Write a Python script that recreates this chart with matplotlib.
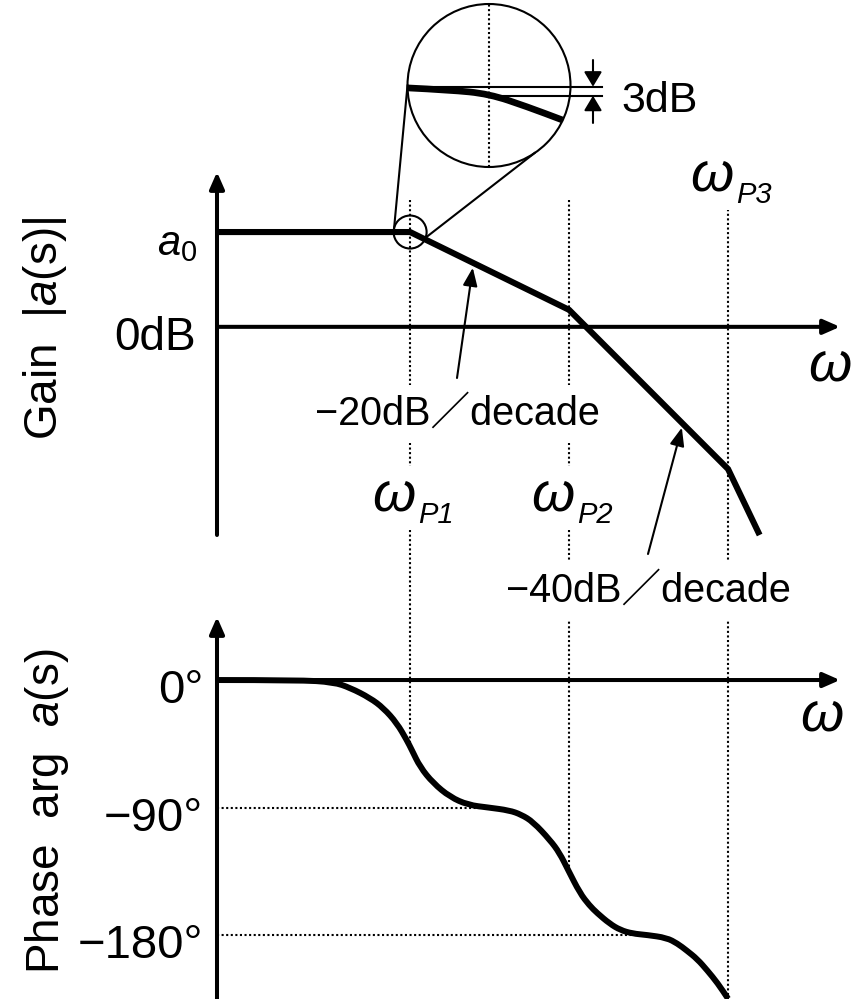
import matplotlib
matplotlib.use("Agg")
import matplotlib.pyplot as plt
from matplotlib.patches import Circle, PathPatch
from matplotlib.path import Path
from matplotlib import transforms
import numpy as np

plt.rcParams['font.family'] = ['Liberation Sans', 'Noto Sans CJK JP']
plt.rcParams['mathtext.fontset'] = 'custom'
plt.rcParams['mathtext.rm'] = 'Liberation Sans'
plt.rcParams['mathtext.it'] = 'Liberation Sans:italic'

# --- values (omega normalised to omega_P1) ---
pole_w = [1, 10, 100]
pole_names = ['P1', 'P2', 'P3']
pole_phase = [-45, -135, -225]   # where the guide lines meet the phase curve

gain_w = [0.061, 1, 10, 100, 158]
gain_db = [24, 24, 4.3, -36, -52.7]

phase_w = [0.061, 0.2, 0.33, 0.42, 0.56, 0.68, 0.825, 0.953, 1.025, 1.156,
           1.395, 1.785, 2.32, 3.1, 4.2, 5.0, 5.94, 7.59, 8.7, 9.86, 11.7,
           13.4, 15, 18, 21, 25, 31, 41, 48, 55, 64, 74, 86, 100]
phase_deg = [0, 0, -1.5, -5.5, -12.7, -19.8, -30.4, -42.4, -49.4, -61.4,
             -72.7, -82.6, -88.2, -90, -92, -95, -100.2, -113, -122, -134.1,
             -150.4, -159, -164.5, -172, -176.5, -179, -180, -182, -186, -191,
             -197, -205, -214, -225]

plateau_deg = [-90, -180]
plateau_w = [3.2, 31.5]
phase_ticks = [0, -90, -180]
phase_tick_labels = ['0°', '−90°', '−180°']

slope_text = ['−20dB／decade', '−40dB／decade']
slope_tip_w = [2.5, 52]
slope_tip_db = [16, -24.5]

# magnified corner (local zoom units, dB)
zoom_x = [-1.0, -0.48, 0.0, 0.47, 0.9]
zoom_db = [-0.4, -1.1, -2.4, -6.7, -11.1]
drop_db = -3

W, H = 868, 999


def rect(x0, y0, x1, y1):
    return [x0 / W, 1 - y1 / H, (x1 - x0) / W, (y1 - y0) / H]


def smooth(xs, ys, log=False):
    # quadratic bezier through the midpoints, the read points act as controls
    verts = [(xs[0], ys[0])]
    codes = [Path.MOVETO]
    for i in range(1, len(xs) - 1):
        if log:
            mx = np.sqrt(xs[i] * xs[i + 1])
        else:
            mx = (xs[i] + xs[i + 1]) / 2
        verts += [(xs[i], ys[i]), (mx, (ys[i] + ys[i + 1]) / 2)]
        codes += [Path.CURVE3, Path.CURVE3]
    verts.append((xs[-1], ys[-1]))
    codes.append(Path.LINETO)
    return Path(verts, codes)


fig = plt.figure(figsize=(W / 100, H / 100), dpi=100)
canvas = fig.add_axes([0, 0, 1, 1], zorder=0)
canvas.set_xlim(0, W)
canvas.set_ylim(H, 0)
canvas.axis('off')

ax_g = fig.add_axes(rect(217, 172, 840, 535), zorder=1)
ax_g.set_xscale('log')
ax_g.set_xlim(0.061, 506)
ax_g.set_ylim(-52.7, 39.2)
ax_g.axis('off')

ax_p = fig.add_axes(rect(217, 617, 840, 999), zorder=1)
ax_p.set_xscale('log')
ax_p.set_xlim(0.061, 506)
ax_p.set_ylim(-225.2, 44.5)
ax_p.axis('off')


def to_canvas(ax, x, y):
    return canvas.transData.inverted().transform(ax.transData.transform((x, y)))


head = '-|>,head_length=0.5,head_width=0.22'
axis_arrow = dict(arrowstyle=head, mutation_scale=20, lw=2.9, color='k',
                  shrinkA=0, shrinkB=0)
for ax in (ax_g, ax_p):
    ax.annotate('', xy=(0, 1), xytext=(0, 0), xycoords='axes fraction',
                arrowprops=axis_arrow, annotation_clip=False)
    ax.annotate('', xy=(1, 0), xytext=(0, 0), xycoords=ax.get_yaxis_transform(),
                arrowprops=axis_arrow, annotation_clip=False)

ax_g.plot(gain_w, gain_db, color='k', lw=4.4, clip_on=False,
          solid_joinstyle='miter', solid_capstyle='butt', zorder=3)
ax_p.add_patch(PathPatch(smooth(phase_w, phase_deg, log=True), fill=False,
                         ec='k', lw=4.3, capstyle='butt', clip_on=False,
                         zorder=3))

# dotted guides
dot = dict(color='k', lw=1.5, linestyle=(0, (1, 1.2)))
blend = transforms.blended_transform_factory(ax_g.transData, canvas.transData)
for w, ph in zip(pole_w, pole_phase):
    y_end = to_canvas(ax_p, w, ph)[1]
    canvas.plot([w, w], [200, y_end], transform=blend, zorder=1, **dot)
for d, w in zip(plateau_deg, plateau_w):
    ax_p.plot([ax_p.get_xlim()[0], w], [d, d], **dot)

# axis titles
canvas.text(45, 328, 'Gain  |$a$(s)|', rotation=90, ha='center', va='center',
            fontsize=33)
canvas.text(47, 811, 'Phase  arg  $a$(s)', rotation=90, ha='center',
            va='center', fontsize=33)

gain_lab = transforms.offset_copy(
    transforms.blended_transform_factory(canvas.transData, ax_g.transData),
    fig=fig, y=-23, units='dots')
canvas.text(197, gain_db[0], r'$a_{\mathrm{0}}$', ha='right', va='baseline',
            fontsize=30, transform=gain_lab)
canvas.text(196, 0, '0dB', ha='right', va='baseline', fontsize=33,
            transform=gain_lab)

phase_lab = transforms.offset_copy(
    transforms.blended_transform_factory(canvas.transData, ax_p.transData),
    fig=fig, y=-23, units='dots')
for t, lab in zip(phase_ticks, phase_tick_labels):
    canvas.text(203, t, lab, ha='right', va='baseline', fontsize=34,
                transform=phase_lab)

canvas.text(808, 382, 'ω', style='italic', fontsize=40, va='baseline')
canvas.text(800, 732, 'ω', style='italic', fontsize=40, va='baseline')

white = dict(facecolor='white', edgecolor='none', pad=4)
pole_label_y = [512, 512, 192]
for w, name, y in zip(pole_w, pole_names, pole_label_y):
    tw = transforms.offset_copy(blend, fig=fig, x=5, units='dots')
    ts = transforms.offset_copy(blend, fig=fig, x=8, y=-11, units='dots')
    canvas.text(w, y, 'ω', style='italic', fontsize=40, ha='right',
                va='baseline', transform=tw, bbox=white, zorder=4)
    canvas.text(w, y, name, style='italic', fontsize=21, ha='left',
                va='baseline', transform=ts, zorder=4)

slope_xy = [(457, 425), (648, 602)]
slope_tail = [(457, 378), (648, 554)]
for txt, (x, y), tail, w, db in zip(slope_text, slope_xy, slope_tail,
                                     slope_tip_w, slope_tip_db):
    canvas.text(x, y, txt, ha='center', va='baseline', fontsize=28.5,
                bbox=dict(facecolor='white', edgecolor='none', pad=7), zorder=4)
    ax_g.annotate('', xy=(w, db), xytext=tail, textcoords=canvas.transData,
                  arrowprops=dict(arrowstyle='-|>,head_length=0.55,head_width=0.22',
                                  mutation_scale=20, lw=1.5, color='k',
                                  shrinkA=0, shrinkB=3),
                  annotation_clip=False)

# magnifier
big_c, big_r = (489, 85.5), 81.5
small_c = to_canvas(ax_g, pole_w[0], gain_db[1])
small_r = 16.5
canvas.add_patch(Circle(big_c, big_r, fill=False, lw=1.5, ec='k'))
canvas.add_patch(Circle(small_c, small_r, fill=False, lw=1.5, ec='k', zorder=5))
for a_small, a_big in [(194, 180), (20, 56)]:
    p0 = (small_c[0] + small_r * np.cos(np.radians(a_small)),
          small_c[1] + small_r * np.sin(np.radians(a_small)))
    p1 = (big_c[0] + big_r * np.cos(np.radians(a_big)),
          big_c[1] + big_r * np.sin(np.radians(a_big)))
    canvas.plot([p0[0], p1[0]], [p0[1], p1[1]], color='k', lw=1.5)

ax_z = fig.add_axes(rect(big_c[0] - big_r, big_c[1] - big_r,
                         big_c[0] + big_r, big_c[1] + big_r), zorder=2)
ax_z.set_xlim(-1, 1)
ax_z.set_ylim(0.4 - 27.2, 0.4 + 27.2)
ax_z.axis('off')
ax_z.plot([0, 0], [0.4 - 27.2, 0.4 + 27.2], **dot)
ax_z.plot([-1, 1.39], [0, 0], color='k', lw=1.5, clip_on=False)
ax_z.plot([0, 1.39], [drop_db, drop_db], color='k', lw=1.5, clip_on=False)
ax_z.add_patch(PathPatch(smooth(zoom_x, zoom_db), fill=False, ec='k', lw=4.8,
                         capstyle='butt'))
small_head = dict(arrowstyle='-|>,head_length=0.45,head_width=0.27',
                  mutation_scale=20, lw=1.5, color='k', shrinkA=0, shrinkB=0)
ax_z.annotate('', xy=(1.276, 0), xytext=(1.276, 8.9), arrowprops=small_head,
              annotation_clip=False)
ax_z.annotate('', xy=(1.276, drop_db), xytext=(1.276, -12.1),
              arrowprops=small_head, annotation_clip=False)
canvas.text(621, 112, '3dB', ha='left', va='baseline', fontsize=31)

plt.savefig("out.png", dpi=100, facecolor='w')
plt.close()
